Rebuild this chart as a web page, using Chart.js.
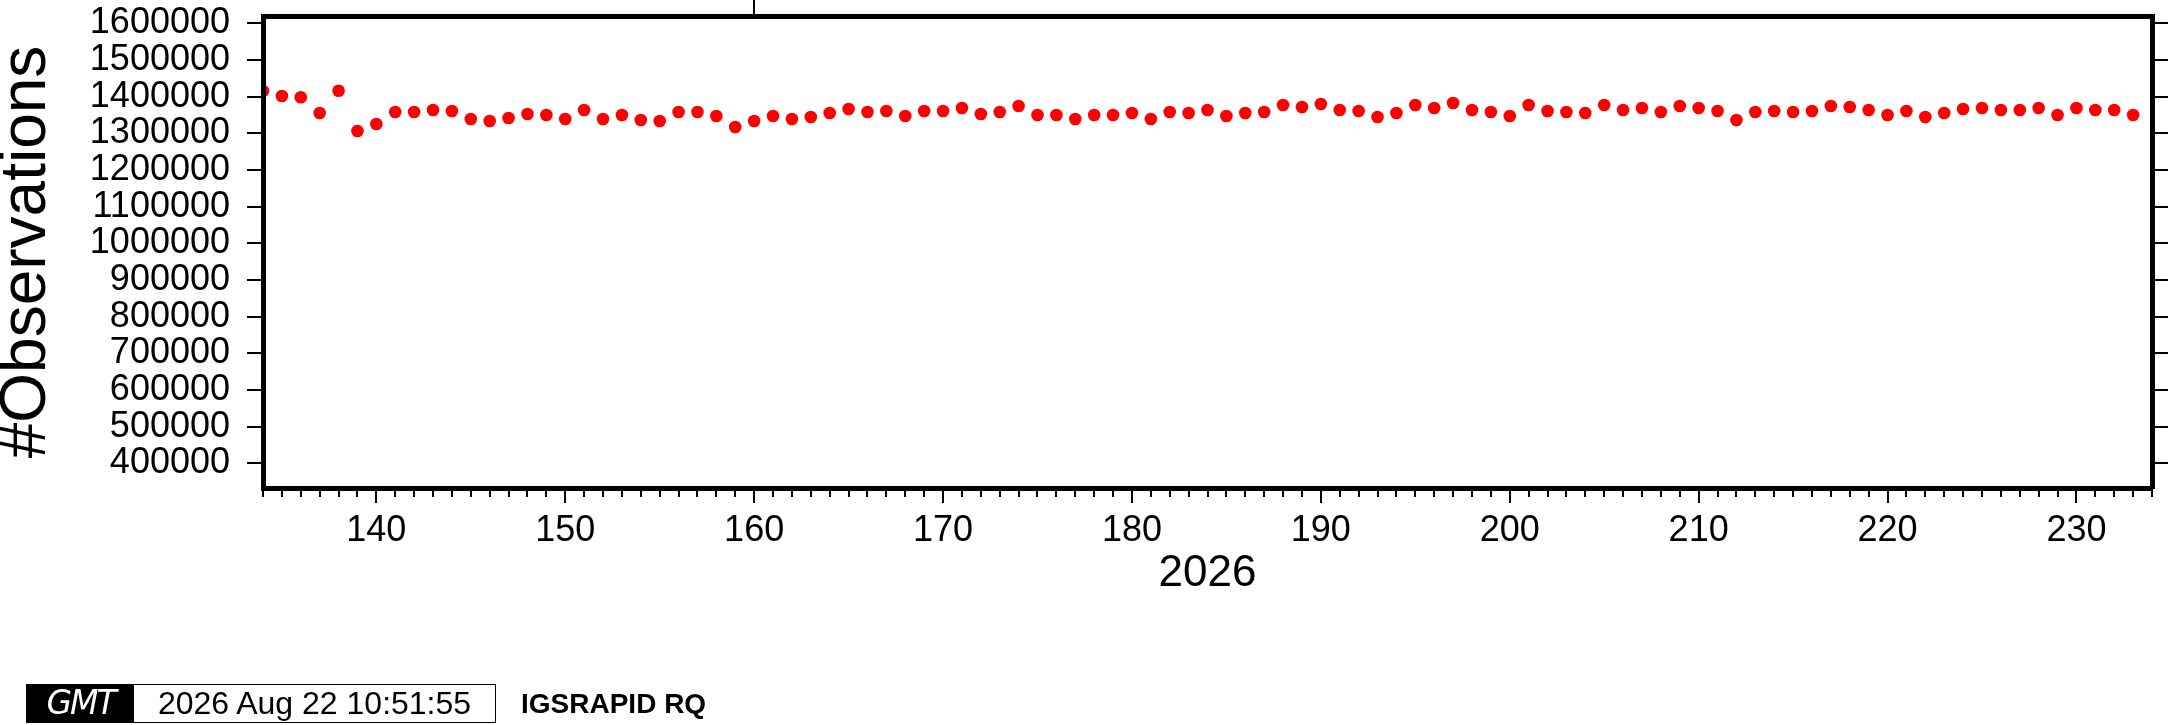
<!DOCTYPE html>
<html>
<head>
<meta charset="utf-8">
<script src="https://cdn.jsdelivr.net/npm/chart.js@4.4.1/dist/chart.umd.min.js"></script>
<style>
  html, body { margin:0; padding:0; background:#fff; }
  #wrap { position:relative; width:2168px; height:725px; overflow:hidden; background:#fff; }
  #c { position:absolute; left:0; top:0; }
  #stamp { position:absolute; left:26px; top:684px; width:470px; height:39px; border:1.5px solid #000; box-sizing:border-box; display:flex; background:#fff; }
  #logo { width:107px; height:100%; background:#000; color:#fff; font-family:'DejaVu Sans', sans-serif; font-style:italic; font-size:33px; line-height:36px; text-align:center; letter-spacing:-2px; }
  #date { flex:1; font-family:'Liberation Sans', Arial, sans-serif; font-size:32px; line-height:36px; text-align:center; color:#000; }
  #label { position:absolute; left:521px; top:687px; font-family:'Liberation Sans', Arial, sans-serif; font-weight:bold; font-size:28px; line-height:34px; color:#000; }
</style>
</head>
<body>
<div id="wrap">
  <canvas id="c" width="2168" height="725"></canvas>
  <div id="stamp"><div id="logo">GMT</div><div id="date">2026 Aug 22 10:51:55</div></div>
  <div id="label">IGSRAPID RQ</div>
</div>
<script>
// ---- data (day of year 2026, number of observations) ----
const days = [134,135,136,137,138,139,140,141,142,143,144,145,146,147,148,149,150,151,152,153,154,155,156,157,158,159,160,161,162,163,164,165,166,167,168,169,170,171,172,173,174,175,176,177,178,179,180,181,182,183,184,185,186,187,188,189,190,191,192,193,194,195,196,197,198,199,200,201,202,203,204,205,206,207,208,209,210,211,212,213,214,215,216,217,218,219,220,221,222,223,224,225,226,227,228,229,230,231,232,233];
const observations = [1415400,1401800,1398200,1355400,1416200,1306300,1325400,1358100,1358100,1363600,1360800,1339000,1333600,1341800,1352700,1350000,1339000,1363600,1339000,1350000,1336300,1333600,1358100,1358100,1347200,1317200,1333600,1347200,1339000,1344500,1355400,1366300,1358100,1360800,1347200,1360800,1360800,1369000,1352700,1358100,1374500,1350000,1350000,1339000,1350000,1350000,1355400,1339000,1358100,1355400,1363600,1347200,1355400,1358100,1377200,1371800,1380000,1363600,1360800,1344500,1355400,1377200,1369000,1382700,1363600,1358100,1347200,1377200,1360800,1358100,1355400,1377200,1363600,1369000,1358100,1374500,1369000,1360800,1336300,1358100,1360800,1358100,1360800,1374500,1371800,1363600,1350000,1360800,1344500,1355400,1366300,1369000,1363600,1363600,1369000,1350000,1369000,1363600,1363600,1350000];
const yTickValues = [400000,500000,600000,700000,800000,900000,1000000,1100000,1200000,1300000,1400000,1500000,1600000];
const xTickValues = [140,150,160,170,180,190,200,210,220,230];
const topMarkValues = [160];
const xTitle = '2026';
const yTitle = '#Observations';
const xMin = 134, xMax = 234;
const yMin = 332600, yMax = 1619900;

const FONT = "'Liberation Sans', Arial, Helvetica, sans-serif";
const BLACK = '#000000';

const points = days.map((d, i) => ({ x: d, y: observations[i] }));

const frameBorder = { display: true, color: BLACK, width: 5, z: 1 };
const noPad = s => { s.paddingTop = 0; s.paddingBottom = 0; s.paddingLeft = 0; s.paddingRight = 0; };

new Chart(document.getElementById('c'), {
  type: 'scatter',
  data: {
    datasets: [{
      data: points,
      xAxisID: 'x',
      yAxisID: 'y',
      backgroundColor: '#ff0000',
      borderWidth: 0,
      pointRadius: 6.3,
      pointHoverRadius: 6.3,
      clip: 0
    }]
  },
  options: {
    responsive: false,
    devicePixelRatio: 1,
    animation: false,
    events: [],
    layout: { padding: 0 },
    plugins: { legend: { display: false }, tooltip: { enabled: false } },
    scales: {
      xm: {
        type: 'linear', position: 'bottom', weight: 0,
        min: xMin, max: xMax,
        afterBuildTicks: s => { const t = []; for (let v = xMin; v <= xMax; v++) t.push({ value: v }); s.ticks = t; },
        afterFit: s => { s.height = 0; noPad(s); },
        ticks: { display: false },
        grid: { drawOnChartArea: false, drawTicks: true, tickLength: 9, color: BLACK, lineWidth: 2 },
        border: { display: false }
      },
      x: {
        type: 'linear', position: 'bottom', weight: 1,
        min: xMin, max: xMax,
        afterBuildTicks: s => { s.ticks = xTickValues.map(v => ({ value: v })); },
        afterFit: s => { s.height = 237; noPad(s); },
        ticks: {
          autoSkip: false, maxRotation: 0, minRotation: 0, padding: 10, color: BLACK,
          font: { family: FONT, size: 36, lineHeight: 1 },
          callback: v => String(v)
        },
        grid: { drawOnChartArea: false, drawTicks: true, tickLength: 15, color: BLACK, lineWidth: 2 },
        border: frameBorder,
        title: { display: true, text: xTitle, color: BLACK, font: { family: FONT, size: 44, lineHeight: 1 }, padding: { top: 0, bottom: 129 } }
      },
      xt: {
        type: 'linear', position: 'top',
        min: xMin, max: xMax,
        afterBuildTicks: s => { s.ticks = topMarkValues.map(v => ({ value: v })); },
        afterFit: s => { s.height = 16; noPad(s); },
        ticks: { display: false },
        grid: { drawOnChartArea: false, drawTicks: true, tickLength: 16, color: BLACK, lineWidth: 2 },
        border: frameBorder
      },
      y: {
        type: 'linear', position: 'left',
        min: yMin, max: yMax,
        afterBuildTicks: s => { s.ticks = yTickValues.map(v => ({ value: v })); },
        afterFit: s => { s.width = 263; noPad(s); },
        ticks: {
          autoSkip: false, padding: 17, color: BLACK,
          font: { family: FONT, size: 36, lineHeight: 1 },
          callback: v => String(v)
        },
        grid: { drawOnChartArea: false, drawTicks: true, tickLength: 16, color: BLACK, lineWidth: 2 },
        border: frameBorder,
        title: { display: true, text: yTitle, color: BLACK, font: { family: FONT, size: 64, lineHeight: 0.85 }, padding: 0 }
      },
      y2: {
        type: 'linear', position: 'right',
        min: yMin, max: yMax,
        afterBuildTicks: s => { s.ticks = yTickValues.map(v => ({ value: v })); },
        afterFit: s => { s.width = 16; noPad(s); },
        ticks: { display: false },
        grid: { drawOnChartArea: false, drawTicks: true, tickLength: 16, color: BLACK, lineWidth: 2 },
        border: frameBorder
      }
    }
  }
});
</script>
</body>
</html>
